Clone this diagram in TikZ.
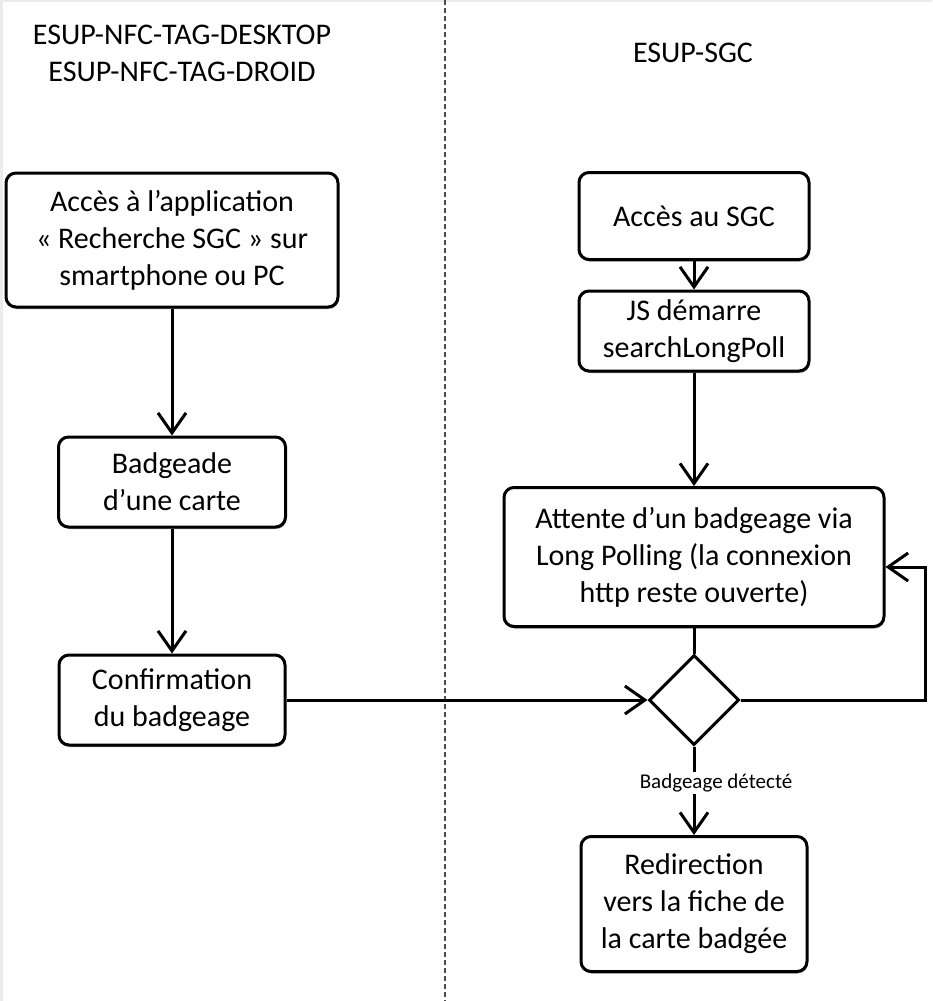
\documentclass[tikz,border=0pt]{standalone}
\usepackage{fontspec}
\setmainfont{Carlito}
\usetikzlibrary{arrows.meta,shapes.geometric,shadows}

\begin{document}
\begin{tikzpicture}[x=1pt,y=-1pt,
  box/.style={draw,line width=3pt,rounded corners=10pt,fill=white,align=center,
    inner sep=2pt,font=\fontsize{30}{37}\selectfont,
    drop shadow={shadow xshift=0.8pt,shadow yshift=-2pt,fill=black!40,opacity=1}},
  decision/.style={draw,diamond,aspect=1,line width=3pt,fill=white,
    minimum width=90pt,minimum height=90pt,inner sep=0pt},
  arr/.style={line width=3pt,-{Straight Barb[length=20pt,width=28pt,line width=3pt]}},
  title/.style={align=center,font=\fontsize{30}{37}\selectfont}]

\useasboundingbox (0,0) rectangle (932,1001);
\fill[black!8] (0,0) rectangle (3,1001);
\fill[black!8] (0,0) rectangle (932,2);

\draw[black!70,line width=2pt,dash pattern=on 5pt off 3pt] (445,0) -- (445,1001);

\node [title] (client) at (182,53) {ESUP-NFC-TAG-DESKTOP\\ESUP-NFC-TAG-DROID};
\node [title] (sgc) at (693,53) {ESUP-SGC};

\node [box,minimum width=332pt,minimum height=134pt] (acces) at (172,240)
  {Accès à l’application\\« Recherche SGC » sur\\smartphone ou PC};
\node [box,minimum width=227pt,minimum height=90pt] (badge) at (172,482)
  {Badgeade\\d’une carte};
\node [box,minimum width=226pt,minimum height=90pt] (confirm) at (172,700)
  {Confirmation\\du badgeage};

\node [box,minimum width=230pt,minimum height=87pt] (accessgc) at (694,216)
  {Accès au SGC};
\node [box,minimum width=230pt,minimum height=80pt] (js) at (694,331)
  {JS démarre\\searchLongPoll};
\node [box,minimum width=380pt,minimum height=139pt] (wait) at (694,557)
  {Attente d’un badgeage via\\Long Polling (la connexion\\http reste ouverte)};
\node [decision] (dec) at (694,700) {};
\node [box,minimum width=226pt,minimum height=135pt] (redirect) at (694,904)
  {Redirection\\vers la fiche de\\la carte badgée};

\coordinate (loop) at (925,567);

\foreach \from/\to in {acces/badge, badge/confirm, accessgc/js, js/wait}
  \draw[arr] (\from.south) -- (\to.north);
\draw[line width=3pt] (wait.south) -- (dec.north);
\draw[arr] (confirm.east) -- (dec.west);
\draw[arr] (dec.east) -| (loop) -- (loop -| wait.east);
\draw[arr] (dec.south) -- node[pos=0.41,fill=white,inner sep=2pt,xshift=22pt,
  font=\fontsize{21}{25}\selectfont] (detect) {Badgeage détecté} (redirect.north);
\end{tikzpicture}
\end{document}
